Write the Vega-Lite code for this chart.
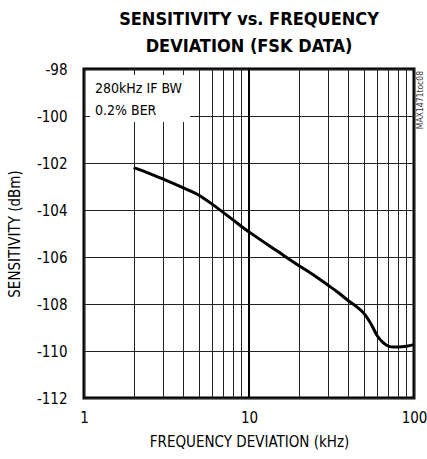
{
  "$schema": "https://vega.github.io/schema/vega-lite/v6.json",
  "width": 330,
  "height": 329,
  "autosize": "none",
  "padding": {"left": 84, "top": 69, "right": 13, "bottom": 61},
  "background": "white",
  "title": {
    "text": ["SENSITIVITY vs. FREQUENCY", "DEVIATION (FSK DATA)"],
    "font": "DejaVu Sans Condensed",
    "fontSize": 18,
    "fontWeight": "bold",
    "lineHeight": 27,
    "offset": 6,
    "color": "black",
    "anchor": "middle"
  },
  "config": {
    "view": {"stroke": "black", "strokeWidth": 3},
    "font": "DejaVu Sans Condensed"
  },
  "layer": [
    {
      "data": {"values": [{}]},
      "mark": {"type": "rect", "fill": "white", "stroke": null},
      "encoding": {
        "x": {"datum": 1.087, "type": "quantitative"},
        "x2": {"datum": 4.39},
        "y": {"datum": -98.26, "type": "quantitative"},
        "y2": {"datum": -100.26}
      }
    },
    {
      "data": {"values": [{}]},
      "mark": {"type": "rule", "color": "black", "strokeWidth": 2},
      "encoding": {"x": {"datum": 10, "type": "quantitative"}}
    },
    {
      "data": {
        "values": [
          {"dev": 2, "sens": -102.2},
          {"dev": 2.5, "sens": -102.45},
          {"dev": 3, "sens": -102.68},
          {"dev": 3.5, "sens": -102.88},
          {"dev": 4, "sens": -103.06},
          {"dev": 5, "sens": -103.38},
          {"dev": 6, "sens": -103.76},
          {"dev": 7, "sens": -104.11},
          {"dev": 8, "sens": -104.42},
          {"dev": 9, "sens": -104.7},
          {"dev": 10, "sens": -104.93},
          {"dev": 15, "sens": -105.77},
          {"dev": 20, "sens": -106.36},
          {"dev": 25, "sens": -106.8},
          {"dev": 30, "sens": -107.19},
          {"dev": 35, "sens": -107.53},
          {"dev": 40, "sens": -107.86},
          {"dev": 45, "sens": -108.12},
          {"dev": 50, "sens": -108.42},
          {"dev": 55, "sens": -108.86},
          {"dev": 60, "sens": -109.36},
          {"dev": 65, "sens": -109.64},
          {"dev": 70, "sens": -109.79},
          {"dev": 75, "sens": -109.83},
          {"dev": 80, "sens": -109.83},
          {"dev": 90, "sens": -109.8},
          {"dev": 100, "sens": -109.73}
        ]
      },
      "mark": {"type": "line", "color": "black", "strokeWidth": 3, "interpolate": "monotone"},
      "encoding": {
        "x": {
          "field": "dev",
          "type": "quantitative",
          "scale": {"type": "log", "domain": [1, 100], "nice": false},
          "axis": {
            "values": [1, 2, 3, 4, 5, 6, 7, 8, 9, 10, 20, 30, 40, 50, 60, 70, 80, 90, 100],
            "labelExpr": "datum.value == 1 || datum.value == 10 || datum.value == 100 ? datum.label : ''",
            "grid": true,
            "gridColor": "#222",
            "gridWidth": 1,
            "gridOpacity": 1,
            "ticks": false,
            "tickSize": 0,
            "domain": false,
            "labelFlush": false,
            "labelOverlap": false,
            "labelFontSize": 15,
            "labelColor": "black",
            "labelPadding": 12,
            "title": "FREQUENCY DEVIATION (kHz)",
            "titleFontSize": 15,
            "titleFontWeight": "normal",
            "titleColor": "black",
            "titlePadding": 9
          }
        },
        "y": {
          "field": "sens",
          "type": "quantitative",
          "scale": {"domain": [-112, -98], "nice": false, "zero": false},
          "axis": {
            "values": [-112, -110, -108, -106, -104, -102, -100, -98],
            "labelExpr": "replace(datum.label, '−', '-')",
            "grid": true,
            "gridColor": "#222",
            "gridWidth": 1,
            "gridOpacity": 1,
            "ticks": false,
            "tickSize": 0,
            "domain": false,
            "labelFlush": false,
            "labelOverlap": false,
            "labelFontSize": 15,
            "labelColor": "black",
            "labelPadding": 17,
            "title": "SENSITIVITY (dBm)",
            "titleFontSize": 15,
            "titleFontWeight": "normal",
            "titleColor": "black",
            "titlePadding": 14
          }
        }
      }
    },
    {
      "data": {"values": [{}]},
      "mark": {"type": "text", "align": "left", "baseline": "alphabetic", "fontSize": 14, "lineHeight": 22, "color": "black"},
      "encoding": {
        "x": {"datum": 1.166, "type": "quantitative"},
        "y": {"datum": -99.02, "type": "quantitative"},
        "text": {"value": ["280kHz IF BW", "0.2% BER"]}
      }
    },
    {
      "data": {"values": [{}]},
      "mark": {"type": "text", "align": "right", "baseline": "middle", "angle": 270, "fontSize": 8.5, "dy": 6, "dx": -2, "color": "#333"},
      "encoding": {
        "x": {"datum": 100, "type": "quantitative"},
        "y": {"datum": -98, "type": "quantitative"},
        "text": {"value": "MAX1471toc08"}
      }
    }
  ]
}
